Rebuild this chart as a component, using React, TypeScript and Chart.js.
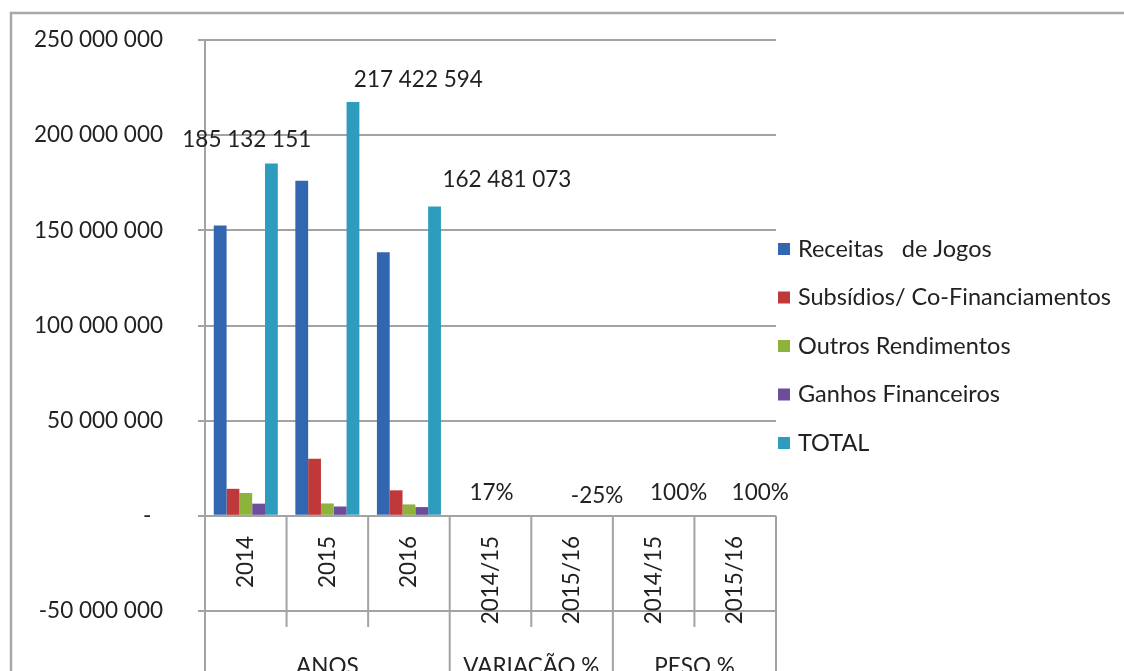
import React, { useEffect, useRef } from "react";
import { Chart, registerables } from "chart.js";

Chart.register(...registerables);

// ---------- data ----------
const categories = ["2014", "2015", "2016", "2014/15", "2015/16", "2014/15", "2015/16"];
const groupLabels = ["ANOS", "VARIAÇÃO %", "PESO %"];
const groupSizes = [3, 2, 2];

const receitasJogos = [152.5e6, 176.0e6, 138.5e6, null, null, null, null];
const subsidios = [14.2e6, 30.0e6, 13.4e6, null, null, null, null];
const outrosRendimentos = [12.0e6, 6.5e6, 6.0e6, null, null, null, null];
const ganhosFinanceiros = [6.4e6, 4.9e6, 4.6e6, null, null, null, null];
const totalValues = [185132151, 217422594, 162481073, 0.17, -0.25, 1, 1];

const seriesNames = [
  "Receitas   de Jogos",
  "Subsídios/ Co-Financiamentos",
  "Outros Rendimentos",
  "Ganhos Financeiros",
  "TOTAL",
];
const seriesColors = ["#3366b1", "#c0393a", "#8db33d", "#6d4c9c", "#2e9dbd"];

// y axis
const yMin = -50e6;
const yMax = 250e6;
const yStep = 50e6;

// ---------- style ----------
const FONT = "Lato, 'Open Sans', sans-serif";
const FONT_SIZE = 22.5;
const LEGEND_FONT_SIZE = 23.5;
const TEXT = "#222222";
const GRID = "#a3a3a3";
// label offsets relative to category centre / bar top (px)
const totalLabelOffsets: [number, number][] = [
  [1, -24],
  [91, -22],
  [98, -27],
  [1, -23],
  [25, -20],
  [25, -23],
  [25, -23],
];

const fmtThousands = (v: number) => {
  const s = Math.round(Math.abs(v)).toString().replace(/\B(?=(\d{3})+(?!\d))/g, " ");
  return (v < 0 ? "-" : "") + s;
};
const fmtTotal = (v: number) =>
  Math.abs(v) >= 1000 ? fmtThousands(v) : Math.round(v * 100) + "%";

const tablePlugin = {
  id: "excelTable",
  afterDraw(chart: any) {
    const { ctx, chartArea, scales } = chart;
    const x = scales.x;
    const y = scales.y;
    const H = chart.height;
    const n = categories.length;
    const catW = (x.right - x.left) / n;
    const zeroY = y.getPixelForValue(0);
    const minY = y.getPixelForValue(yMin);

    ctx.save();
    ctx.strokeStyle = GRID;
    ctx.lineWidth = 2;

    // y axis extension to bottom
    ctx.beginPath();
    ctx.moveTo(chartArea.left, chartArea.top);
    ctx.lineTo(chartArea.left, H + 5);
    ctx.stroke();

    // category boundaries
    const groupEdges = new Set<number>();
    let acc = 0;
    groupEdges.add(0);
    groupSizes.forEach((g) => {
      acc += g;
      groupEdges.add(acc);
    });
    for (let i = 0; i <= n; i++) {
      const bx = x.left + i * catW;
      ctx.beginPath();
      ctx.moveTo(bx, zeroY);
      if (groupEdges.has(i)) ctx.lineTo(bx, H + 5);
      else ctx.lineTo(bx, minY + 16);
      ctx.stroke();
    }

    // outer border
    ctx.strokeStyle = "#a8a8a8";
    ctx.lineWidth = 2.5;
    ctx.strokeRect(11, 13, chart.width + 50, H + 50);

    // rotated category labels
    ctx.fillStyle = TEXT;
    ctx.font = `${FONT_SIZE}px ${FONT}`;
    categories.forEach((c, i) => {
      const cx = x.getPixelForValue(i);
      ctx.save();
      ctx.translate(cx, zeroY + 20);
      ctx.rotate(-Math.PI / 2);
      ctx.textAlign = "right";
      ctx.textBaseline = "middle";
      ctx.fillText(c, 0, 0);
      ctx.restore();
    });

    // group labels
    ctx.textAlign = "center";
    ctx.textBaseline = "middle";
    acc = 0;
    groupLabels.forEach((g, gi) => {
      const x0 = x.left + acc * catW;
      acc += groupSizes[gi];
      const x1 = x.left + acc * catW;
      ctx.fillText(g, (x0 + x1) / 2, minY + 56);
    });

    // total data labels
    totalValues.forEach((v, i) => {
      const [dx, dy] = totalLabelOffsets[i];
      const px = x.getPixelForValue(i) + dx;
      const py = y.getPixelForValue(v) + dy;
      ctx.fillText(fmtTotal(v), px, py);
    });

    // legend
    const legX = chartArea.right + 2;
    const legY0 = chartArea.top + 209;
    const legStep = 48.5;
    ctx.font = `${LEGEND_FONT_SIZE}px ${FONT}`;
    chart.data.datasets.forEach((ds: any, i: number) => {
      const cy = legY0 + i * legStep;
      ctx.fillStyle = seriesColors[i];
      ctx.fillRect(legX, cy - 6, 12, 12);
      ctx.fillStyle = TEXT;
      ctx.textAlign = "left";
      ctx.textBaseline = "middle";
      ctx.fillText(ds.label, legX + 20, cy);
    });

    ctx.restore();
  },
};

export default function App() {
  const ref = useRef<HTMLCanvasElement | null>(null);

  useEffect(() => {
    if (!ref.current) return;
    const seriesData = [receitasJogos, subsidios, outrosRendimentos, ganhosFinanceiros, totalValues];
    const chart = new Chart(ref.current, {
      type: "bar",
      data: {
        labels: categories,
        datasets: seriesData.map((d, i) => ({
          label: seriesNames[i],
          data: d as any,
          // ratios (percent categories) are far below one pixel on this scale
          backgroundColor: (c: any) =>
            c.raw != null && Math.abs(c.raw) < 1000 ? "rgba(0,0,0,0)" : seriesColors[i],
          borderWidth: 0,
          categoryPercentage: 0.785,
          barPercentage: 1,
        })),
      },
      options: {
        animation: false,
        responsive: false,
        devicePixelRatio: 1,
        layout: { padding: { left: 10, right: 348, top: 40, bottom: 60 } },
        plugins: { legend: { display: false }, tooltip: { enabled: false } },
        scales: {
          x: {
            position: { y: 0 } as any,
            grid: { display: false },
            border: { display: false },
            ticks: { display: false },
          },
          y: {
            min: yMin,
            max: yMax,
            afterFit: (s: any) => {
              s.width = 195;
              s.paddingTop = 12;
              s.paddingBottom = 12;
            },
            grid: { color: GRID, lineWidth: 2, tickLength: 7 },
            border: { display: true, color: GRID, width: 2 },
            ticks: {
              stepSize: yStep,
              padding: 35,
              color: TEXT,
              font: { family: FONT, size: FONT_SIZE },
              callback: (v: any) => (Number(v) === 0 ? "-  " : fmtThousands(Number(v))),
            },
          },
        },
      },
      plugins: [tablePlugin],
    });
    return () => chart.destroy();
  }, []);

  return (
    <div style={{ position: "absolute", left: 0, top: 0, width: 1124, height: 671, background: "#fff" }}>
      <canvas ref={ref} width={1124} height={671} style={{ display: "block" }} />
    </div>
  );
}
